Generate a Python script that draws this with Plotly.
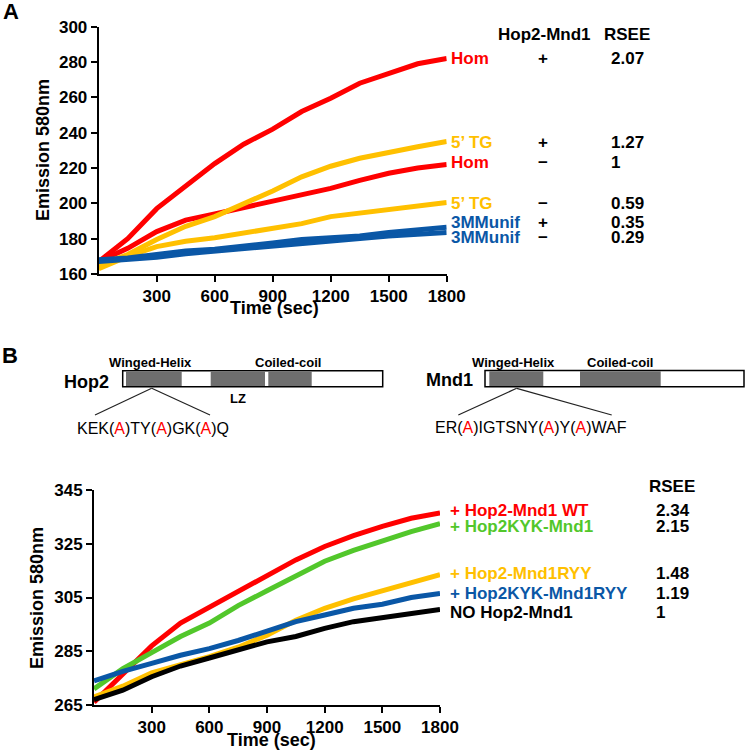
"""Strand-exchange (RSEE) kinetics — Hop2-Mnd1 stimulation and domain mutants."""

import plotly.graph_objects as go

W, H = 745, 751
FONT = "Liberation Sans, Arial, sans-serif"

RED = "#FF0000"
GOLD = "#FFC000"
BLUE = "#0A57A6"
GREEN = "#52C72B"
BLACK = "#000000"

# ---- panel A: emission at 580 nm vs time ----
TIME_A = [0, 150, 300, 450, 600, 750, 900, 1050, 1200, 1350, 1500, 1650, 1800]
HOM_PLUS = [167, 180, 197, 210, 222.5, 233.5, 242, 252, 259.5, 268, 273.5, 279, 282]
HOM_MINUS = [167, 174.5, 184, 190.5, 194, 197.5, 201.5, 205, 208.5, 213, 217, 220, 222]
TG_PLUS = [165, 171, 179.5, 187, 192.5, 199.5, 207, 215, 221, 225.5, 229, 232, 235]
TG_MINUS = [163, 170, 175.5, 178.5, 180.5, 183, 186, 188.5, 192.5, 194.5, 196.5, 198, 200.5]
MMU_PLUS = [168, 169, 171, 173, 174, 175.5, 177.5, 179.5, 180.5, 181.5, 183.5, 185, 186.5]
MMU_MINUS = [167, 168, 169.5, 171.5, 173, 174.5, 176, 177.5, 178.5, 180, 181.5, 182.5, 183.5]

LABELS_A = ["Hom", "5\u2019 TG", "Hom", "5\u2019 TG", "3MMunif", "3MMunif"]
HOP2_A = ["+", "+", "\u2212", "\u2212", "+", "\u2212"]
RSEE_A = ["2.07", "1.27", "1", "0.59", "0.35", "0.29"]
LABEL_Y_A = [58, 142, 163, 203, 222, 237]  # pixel rows of the side table

# ---- panel B ----
TIME_B = [0, 150, 300, 450, 600, 750, 900, 1050, 1200, 1350, 1500, 1650, 1800]
WT = [266, 276.5, 287, 295.5, 301.5, 307.5, 313.5, 319, 324, 328, 331.5, 334.5, 336.5]
KYK = [271, 278.5, 284.5, 290.5, 295.5, 302, 307.5, 313, 318.5, 322.5, 326, 329.5, 332.5]
RYY = [268, 272, 277, 280, 283, 286.5, 291, 296.5, 301, 304.5, 307.5, 310.5, 313.5]
KYK_RYY = [274, 277.5, 280.5, 283.5, 286, 289, 292.5, 296, 298.5, 301, 302.5, 305, 306.5]
NO_PROT = [267, 270.5, 275.5, 279.5, 282.5, 285.5, 288.5, 290.5, 293.5, 296, 297.5, 299, 300.5]

LABELS_B = ["+ Hop2-Mnd1 WT", "+ Hop2KYK-Mnd1", "+ Hop2-Mnd1RYY",
            "+ Hop2KYK-Mnd1RYY", "NO Hop2-Mnd1"]
RSEE_B = ["2.34", "2.15", "1.48", "1.19", "1"]
COLORS_B = [RED, GREEN, GOLD, BLUE, BLACK]
LABEL_Y_B = [510, 526, 573, 593, 612]

X_TICKS = [300, 600, 900, 1200, 1500, 1800]
Y_TICKS_A = [160, 180, 200, 220, 240, 260, 280, 300]
Y_TICKS_B = [265, 285, 305, 325, 345]


def px(x):
    return x / W


def py(y):
    return 1 - y / H


def label(fig, x, y, text, size=17, color=BLACK, anchor="left", bold=True, angle=0):
    if bold:
        text = f"<b>{text}</b>"
    fig.add_annotation(x=px(x), y=py(y), xref="paper", yref="paper", text=text,
                       showarrow=False, xanchor=anchor, yanchor="middle",
                       textangle=angle, font=dict(family=FONT, size=size, color=color))


def box(fig, x0, x1, y0, y1, fill, line_w=0):
    fig.add_shape(type="rect", xref="paper", yref="paper",
                  x0=px(x0), x1=px(x1), y0=py(y1), y1=py(y0), fillcolor=fill,
                  line=dict(color=BLACK, width=line_w) if line_w else dict(width=0))


def seg(fig, x0, y0, x1, y1):
    fig.add_shape(type="line", xref="paper", yref="paper",
                  x0=px(x0), y0=py(y0), x1=px(x1), y1=py(y1),
                  line=dict(color="#222222", width=1.2))


def axis_style(**kw):
    base = dict(showline=True, linecolor=BLACK, linewidth=2, ticks="outside",
                ticklen=6, tickwidth=2, tickcolor=BLACK, showgrid=False,
                zeroline=False, automargin=False,
                tickfont=dict(family=FONT, size=17, color=BLACK, weight="bold"))
    base.update(kw)
    return base


fig = go.Figure()

series_a = [(HOM_PLUS, RED), (HOM_MINUS, RED), (TG_PLUS, GOLD), (TG_MINUS, GOLD),
            (MMU_PLUS, BLUE), (MMU_MINUS, BLUE)]
for vals, col in series_a:
    fig.add_scatter(x=TIME_A, y=vals, mode="lines", xaxis="x", yaxis="y",
                    line=dict(color=col, width=5))

for vals, col in zip([WT, KYK, RYY, KYK_RYY, NO_PROT], COLORS_B):
    fig.add_scatter(x=TIME_B, y=vals, mode="lines", xaxis="x2", yaxis="y2",
                    line=dict(color=col, width=5))

fig.update_layout(
    width=W, height=H, margin=dict(l=0, r=0, t=0, b=0),
    plot_bgcolor="white", paper_bgcolor="white", showlegend=False,
    xaxis=axis_style(domain=[px(98.7), px(446.7)], range=[0, 1800],
                     tickvals=X_TICKS, anchor="y"),
    yaxis=axis_style(domain=[py(274), py(26.7)], range=[160, 300],
                     tickvals=Y_TICKS_A, anchor="x"),
    xaxis2=axis_style(domain=[px(94), px(440)], range=[0, 1800],
                      tickvals=X_TICKS, anchor="y2"),
    yaxis2=axis_style(domain=[py(705), py(490)], range=[265, 345],
                      tickvals=Y_TICKS_B, anchor="x2"),
)

# panel letters and axis titles
label(fig, 11, 12, "A", size=22, anchor="center")
label(fig, 10, 355, "B", size=22, anchor="center")
label(fig, 43, 150, "Emission 580nm", size=18, anchor="center", angle=-90)
label(fig, 274, 308, "Time (sec)", size=18, anchor="center")
label(fig, 37, 598, "Emission 580nm", size=18, anchor="center", angle=-90)
label(fig, 271, 740, "Time (sec)", size=18, anchor="center")

# panel A side table
label(fig, 544, 34, "Hop2-Mnd1", anchor="center")
label(fig, 627, 34, "RSEE", anchor="center")
for name, sign, r, y, col in zip(LABELS_A, HOP2_A, RSEE_A, LABEL_Y_A,
                                 [RED, GOLD, RED, GOLD, BLUE, BLUE]):
    label(fig, 449, y, name, color=col)
    label(fig, 543, y, sign, anchor="center")
    label(fig, 609, y, r)

# panel B side table
label(fig, 672, 487, "RSEE", anchor="center")
for name, r, y, col in zip(LABELS_B, RSEE_B, LABEL_Y_B, COLORS_B):
    label(fig, 448, y, name, color=col)
    label(fig, 654, y, r)

# domain diagrams
GRAY = "#6E6E6E"
box(fig, 122.7, 382.7, 370.7, 386.7, "white", 1.5)
for a, b in [(126, 181.7), (210.7, 265), (268.3, 311.7)]:
    box(fig, a, b, 371.5, 386, GRAY)
label(fig, 150.5, 363, "Winged-Helix", size=13, anchor="center")
label(fig, 288.3, 363, "Coiled-coil", size=13, anchor="center")
label(fig, 86, 381.5, "Hop2", size=18, anchor="center")
label(fig, 237.5, 398, "LZ", size=13, anchor="center")
seg(fig, 151.7, 388.3, 95, 415)
seg(fig, 151.7, 388.3, 210, 415)
r = "(<span style='color:#FF0000'>A</span>)"
label(fig, 153.3, 428.5, f"KEK{r}TY{r}GK{r}Q", size=16, anchor="center", bold=False)

box(fig, 485, 744, 370.5, 386.7, "white", 1.5)
for a, b in [(489.3, 543.3), (580, 660.7)]:
    box(fig, a, b, 371.3, 386, GRAY)
label(fig, 513.7, 362.5, "Winged-Helix", size=13, anchor="center")
label(fig, 619.5, 362.5, "Coiled-coil", size=13, anchor="center")
label(fig, 449, 380, "Mnd1", size=18, anchor="center")
seg(fig, 516.7, 388.3, 458.3, 415)
seg(fig, 516.7, 388.3, 611.7, 415)
label(fig, 530.8, 428, f"ER{r}IGTSNY{r}Y{r}WAF", size=16, anchor="center", bold=False)

# the page body has a default 8px margin; drop it so the figure fills the window
fig.write_html("out.html", config={"displayModeBar": False},
               post_script="document.body.style.margin = '0';")
